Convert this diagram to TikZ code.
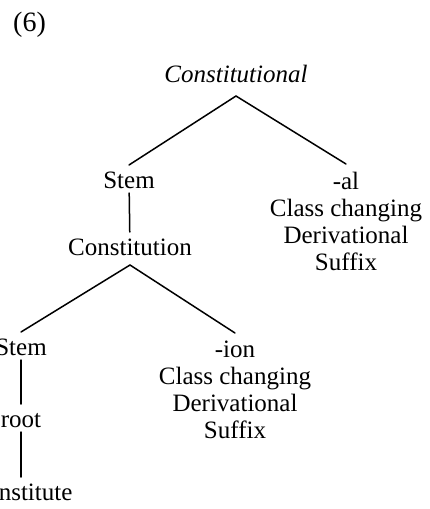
\documentclass[tikz,border=0pt]{standalone}
\usepackage{fontspec}
\setmainfont{Liberation Serif}
\begin{document}
\begin{tikzpicture}[x=1pt,y=-1pt,
  word/.style={font=\fontsize{25}{27}\selectfont, inner sep=0pt, outer sep=5pt,
               text height=18pt, text depth=0pt, anchor=base},
  block/.style={font=\fontsize{25}{27}\selectfont, inner sep=0pt, outer sep=8pt,
                align=center, anchor=north},
  edge/.style={line width=1.5pt, line cap=round}]
\useasboundingbox (0,0) rectangle (430,509);

% example number
\node[anchor=base west, inner sep=0pt, font=\fontsize{28}{30}\selectfont] (num) at (13,31) {(6)};

% word-formation tree
\node[word, font=\fontsize{25}{27}\itshape, text depth=9pt] (top) at (236,82) {Constitutional};
\node[word] (stemA) at (129,188) {Stem};
\node[block] (al) at (346,164) {-al\\Class changing\\Derivational\\Suffix};
\node[word, text depth=5pt] (mid) at (130,255) {Constitution};
\node[word] (stemB) at (21,355) {Stem};
\node[block] (ion) at (235,333) {-ion\\Class changing\\Derivational\\Suffix};
\node[word] (root) at (21,427) {root};
\node[word] (base) at (21,500) {Constitute};

\draw[edge] (stemA.north) -- (top.south) -- (al.north);
\draw[edge] (stemA) -- (mid);
\draw[edge] (stemB.north) -- (mid.south) -- (ion.north);
\draw[edge] (stemB) -- (root);
\draw[edge] (root) -- (base);
\end{tikzpicture}
\end{document}
